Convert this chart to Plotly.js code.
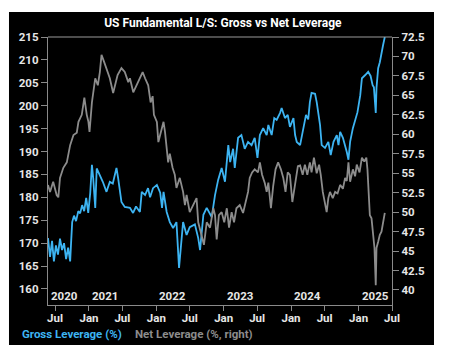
<!DOCTYPE html>
<html>
<head>
<meta charset="utf-8">
<script src="https://cdn.plot.ly/plotly-3.0.1.min.js"></script>
<style>html,body{margin:0;padding:0;background:#fff;}#chart{width:452px;height:360px;}</style>
</head>
<body>
<div id="chart"></div>
<script>
var grossDates = ["2020-05-24","2020-06-04","2020-06-15","2020-06-25","2020-07-06","2020-07-17","2020-07-28","2020-08-08","2020-08-19","2020-08-30","2020-09-10","2020-09-21","2020-09-26","2020-10-02","2020-10-12","2020-10-23","2020-11-04","2020-11-14","2020-11-25","2020-12-06","2020-12-17","2020-12-28","2021-01-08","2021-01-17","2021-01-24","2021-02-04","2021-02-12","2021-03-01","2021-03-17","2021-04-06","2021-04-24","2021-05-10","2021-05-30","2021-06-08","2021-06-26","2021-07-14","2021-08-11","2021-08-28","2021-09-13","2021-10-04","2021-10-14","2021-11-01","2021-11-17","2021-11-28","2021-12-14","2022-01-04","2022-01-22","2022-02-01","2022-02-09","2022-02-26","2022-03-15","2022-04-02","2022-04-20","2022-05-04","2022-05-17","2022-05-26","2022-06-14","2022-07-01","2022-07-29","2022-08-16","2022-08-26","2022-09-13","2022-10-01","2022-10-28","2022-11-15","2022-12-02","2022-12-21","2023-01-08","2023-01-26","2023-02-05","2023-02-21","2023-03-02","2023-03-20","2023-04-07","2023-04-25","2023-05-13","2023-06-01","2023-06-18","2023-07-03","2023-07-16","2023-08-03","2023-08-22","2023-08-31","2023-09-18","2023-10-02","2023-10-15","2023-11-02","2023-11-11","2023-11-29","2023-12-14","2023-12-26","2024-01-14","2024-01-23","2024-02-01","2024-02-19","2024-03-07","2024-03-22","2024-04-03","2024-04-12","2024-04-21","2024-05-10","2024-05-19","2024-05-28","2024-06-06","2024-06-15","2024-07-03","2024-07-21","2024-08-03","2024-08-18","2024-09-05","2024-09-14","2024-09-23","2024-10-08","2024-10-20","2024-10-29","2024-11-07","2024-11-16","2024-12-01","2024-12-13","2024-12-26","2025-01-10","2025-01-19","2025-02-06","2025-02-22","2025-03-07","2025-03-18","2025-03-25","2025-04-04","2025-04-08","2025-04-17","2025-04-26","2025-05-05","2025-05-14","2025-05-23"];
var grossLeverage = [171.1,167,170.5,166,169.5,167.5,171,168.5,170,166.5,169,166,170,174.6,176,174.8,177,176.5,178.3,177,179.9,176.6,181,187.1,184.2,177.7,186.3,184.9,183.4,181.2,183.4,183,186.4,184.2,179,177.9,177.7,176.6,178,176.8,181.2,180.5,182,180,182,182.7,181,177.7,181.2,176.8,174.6,173.3,174.6,164.6,171.8,174.6,171.8,173.5,174.1,171.1,168.5,176.2,177.7,175.7,180.5,183.8,186.4,183.4,191.4,187.7,190.6,186.4,193,193.6,190.6,192.1,191.4,193,188.6,193.6,195.1,193.6,195.8,193.6,197.3,196.9,198.4,199.5,197.3,198,195.4,197.3,193.6,192.1,191.4,195,198,197,200.8,202.8,202.6,200.8,198.6,195.8,191.4,190.8,192.1,189.2,192.1,193.6,191.4,194.3,193,191.4,189.9,188.2,192.1,195.1,196.7,198.6,202.3,206,206.7,207.4,206.5,204.5,204,198.4,203.9,208.2,209.5,211.7,213.3,215];

var netDates = ["2020-05-24","2020-06-04","2020-06-21","2020-07-10","2020-07-19","2020-07-28","2020-08-15","2020-09-03","2020-09-21","2020-10-09","2020-10-27","2020-11-05","2020-11-23","2020-12-07","2020-12-20","2020-12-29","2021-01-04","2021-01-17","2021-02-04","2021-02-18","2021-03-01","2021-03-10","2021-03-24","2021-04-06","2021-04-24","2021-05-12","2021-05-21","2021-06-05","2021-06-26","2021-07-14","2021-08-02","2021-08-11","2021-08-29","2021-09-16","2021-10-04","2021-10-19","2021-11-01","2021-11-18","2021-12-01","2021-12-12","2021-12-19","2022-01-04","2022-01-12","2022-01-26","2022-02-09","2022-02-17","2022-02-26","2022-03-06","2022-03-15","2022-03-30","2022-04-11","2022-04-20","2022-05-08","2022-05-26","2022-06-05","2022-06-14","2022-07-01","2022-07-20","2022-08-07","2022-08-16","2022-09-04","2022-09-16","2022-10-01","2022-10-19","2022-11-06","2022-11-15","2022-11-24","2022-12-06","2022-12-21","2023-01-04","2023-01-18","2023-01-30","2023-02-13","2023-02-26","2023-03-11","2023-03-29","2023-04-16","2023-05-04","2023-05-13","2023-05-22","2023-06-04","2023-06-18","2023-07-06","2023-07-16","2023-07-28","2023-08-12","2023-08-22","2023-08-31","2023-09-14","2023-09-26","2023-10-09","2023-10-23","2023-11-07","2023-11-20","2023-12-02","2023-12-14","2023-12-26","2024-01-08","2024-01-23","2024-02-07","2024-02-19","2024-03-04","2024-03-16","2024-03-29","2024-04-12","2024-04-21","2024-05-04","2024-05-19","2024-06-01","2024-06-10","2024-06-21","2024-07-03","2024-07-12","2024-07-21","2024-07-30","2024-08-14","2024-08-27","2024-09-09","2024-09-23","2024-10-08","2024-10-20","2024-10-29","2024-11-07","2024-11-16","2024-12-01","2024-12-13","2024-12-22","2025-01-06","2025-01-19","2025-02-01","2025-02-12","2025-02-18","2025-02-22","2025-03-03","2025-03-12","2025-03-21","2025-03-28","2025-04-04","2025-04-08","2025-04-17","2025-04-26","2025-05-05","2025-05-14","2025-05-23"];
var netLeverage = [53.5,52.6,53.9,52.2,51.9,54.4,55.7,56.4,58.6,59.9,60.2,61.6,62.5,64.7,62.5,61.6,60.3,64.1,67.2,66.3,68,70.2,69.3,68.5,67.2,65.3,66.3,67.6,68.5,68,66.7,67.2,65.4,66.3,67.2,68,67.2,66.3,64.1,64.9,62.5,61.6,59,60.3,61.6,60.3,58.2,56.4,57.5,55.7,54.8,53.1,54.4,52.6,50.9,52.2,50,50.9,51.8,48.7,47.1,45.8,48.7,48,50.5,49.6,46.5,49.6,50,48.7,50.5,48,50,48.7,50.5,50.9,49.9,51.8,52.6,54.4,55.1,55.5,55.1,56.4,54.8,53.7,52.6,53.8,50.5,53.3,55.5,56.4,55.5,54.4,52.6,55.1,54.8,51.3,53.9,55.9,56,54.8,56.1,54.8,56.4,55.1,57,55,56.1,54.8,52.6,51.3,50,51.8,52.6,51.8,52.6,52.4,53.5,53,54.4,54,56.4,53.9,55.5,54.6,56.1,55.1,57,56.5,57,55.5,53.5,49.6,49.2,47.1,45.4,40.6,45.4,46.2,47.1,47.5,48.7,49.9];

var xTickVals = ["2020-07-01","2021-01-01","2021-07-01","2022-01-01","2022-07-01","2023-01-01","2023-07-01","2024-01-01","2024-07-01","2025-01-01","2025-07-01"];
var xTickText = ["Jul","Jan","Jul","Jan","Jul","Jan","Jul","Jan","Jul","Jan","Jul"];
var yearLabels = ["2020","2021","2022","2023","2024","2025"];
var yearPos = ["2020-05-24","2021-01-01","2022-01-01","2023-01-01","2024-01-01","2025-01-01"];
var leftTicks = [160,165,170,175,180,185,190,195,200,205,210,215];
var rightTicks = [40,42.5,45,47.5,50,52.5,55,57.5,60,62.5,65,67.5,70,72.5];

var FONT = "Roboto, 'Liberation Sans', sans-serif";
var BLUE = "#3db4f2";
var GRAY = "#8c8c8c";
var AXC = "#8a8a8a";
var TXT = "#e6e6e6";

var traces = [
  {x: grossDates, y: grossLeverage, type: "scatter", mode: "lines", line: {color: BLUE, width: 1.8}, yaxis: "y", name: "Gross Leverage (%)"},
  {x: netDates, y: netLeverage, type: "scatter", mode: "lines", line: {color: GRAY, width: 1.8}, yaxis: "y2", name: "Net Leverage (%, right)"}
];

var annotations = yearLabels.map(function(t, i){
  return {text: "<b>" + t + "</b>", x: yearPos[i], xref: "x", y: 0, yref: "paper", xanchor: "left", yanchor: "bottom", xshift: 1, yshift: 0, showarrow: false, font: {family: FONT, size: 11.5, color: TXT}};
});
annotations.push({text: "<b>Gross Leverage (%)</b>", x: -0.08, xref: "paper", y: -0.11, yref: "paper", xanchor: "left", yanchor: "middle", showarrow: false, font: {family: FONT, size: 11.5, color: BLUE}});
annotations.push({text: "<b>Net Leverage (%, right)</b>", x: 0.247, xref: "paper", y: -0.11, yref: "paper", xanchor: "left", yanchor: "middle", showarrow: false, font: {family: FONT, size: 11.5, color: GRAY}});

var layout = {
  width: 452, height: 360,
  margin: {l: 48, r: 60, t: 37, b: 55, pad: 0},
  paper_bgcolor: "#ffffff",
  plot_bgcolor: "#000000",
  showlegend: false,
  title: {text: "<b>US Fundamental L/S: Gross vs Net Leverage</b>", font: {family: FONT, size: 12, color: "#ffffff"}, x: 0.493, xanchor: "center", y: 0.936, yanchor: "middle"},
  xaxis: {type: "date", range: ["2020-05-24", "2025-07-01"], tickmode: "array", tickvals: xTickVals, ticktext: xTickText,
          showgrid: false, zeroline: false, showline: true, linecolor: AXC, linewidth: 1.2, ticks: "outside", ticklen: 5, tickcolor: AXC,
          ticklabelstandoff: -3,
          tickfont: {family: FONT, size: 11.5, color: TXT, weight: "bold"}},
  yaxis: {range: [156.5, 215], tickmode: "array", tickvals: leftTicks, showgrid: false, zeroline: false, showline: true, linecolor: AXC, linewidth: 1.2,
          ticks: "outside", ticklen: 6, tickcolor: AXC, tickfont: {family: FONT, size: 11.5, color: TXT, weight: "bold"}},
  yaxis2: {range: [38.07, 72.5], overlaying: "y", side: "right", tickmode: "array", tickvals: rightTicks, showgrid: false, zeroline: false, showline: true,
           linecolor: AXC, linewidth: 1.2, ticks: "outside", ticklen: 6, tickcolor: AXC, tickfont: {family: FONT, size: 11.5, color: TXT, weight: "bold"}},
  shapes: [
    {type: "rect", xref: "paper", yref: "paper", x0: -0.1134, x1: 1.1221, y0: -0.1493, y1: 1.0933, fillcolor: "#000000", line: {width: 0}, layer: "below"},
    {type: "line", xref: "paper", yref: "paper", x0: 0, x1: 1, y0: 1, y1: 1, line: {color: "#9a9a9a", width: 1.2}}
  ],
  annotations: annotations
};

Plotly.newPlot("chart", traces, layout, {displayModeBar: false, staticPlot: true});
</script>
</body>
</html>
